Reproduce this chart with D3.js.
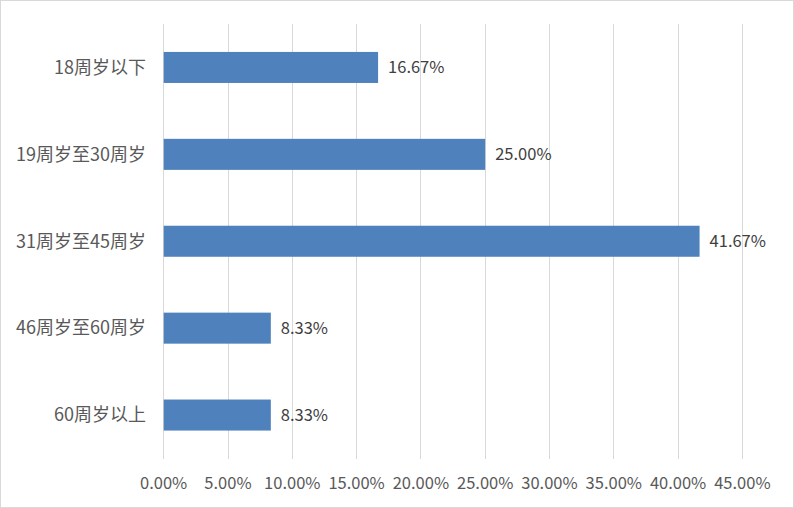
<!DOCTYPE html>
<html><head><meta charset="utf-8">
<script src="https://cdn.jsdelivr.net/npm/d3@7/dist/d3.min.js"></script>
<style>body{margin:0;background:#fff;} text{font-family:"Noto Sans CJK SC","Noto Sans",sans-serif;}</style>
</head><body><svg id="c" width="794" height="508"></svg>
<script>
const categories = ["18周岁以下","19周岁至30周岁","31周岁至45周岁","46周岁至60周岁","60周岁以上"];
const values = [16.67, 25.00, 41.67, 8.33, 8.33];
const ticks = [0,5,10,15,20,25,30,35,40,45];

const svg = d3.select("#c");
svg.append("rect").attr("x",0.5).attr("y",0.5).attr("width",793).attr("height",507)
  .attr("fill","#fff").attr("stroke","#d9d9d9");

const x = d3.scaleLinear().domain([0,45]).range([163.7,742.4]);
const y = d3.scaleBand().domain(categories).range([24,458.5]).paddingInner(0.643).paddingOuter(0.3215);

svg.append("g").selectAll("line").data(ticks).join("line")
  .attr("x1",d=>x(d)).attr("x2",d=>x(d)).attr("y1",24).attr("y2",459)
  .attr("stroke","#d9d9d9").attr("stroke-width",1).attr("shape-rendering","crispEdges");

svg.append("g").selectAll("rect").data(values).join("rect")
  .attr("x",x(0)).attr("y",(d,i)=>y(categories[i]))
  .attr("width",d=>x(d)-x(0)).attr("height",y.bandwidth()).attr("fill","#4f81bd");

svg.append("g").selectAll("text").data(values).join("text")
  .attr("x",d=>x(d)+10).attr("y",(d,i)=>y(categories[i])+y.bandwidth()/2)
  .attr("dy","0.35em").attr("font-size",16.5).attr("fill","#404040")
  .text(d=>d.toFixed(2)+"%");

svg.append("g").selectAll("text").data(categories).join("text")
  .attr("x",146).attr("y",d=>y(d)+y.bandwidth()/2).attr("dy","0.35em")
  .attr("text-anchor","end").attr("font-size",18).attr("fill","#595959").text(d=>d);

svg.append("g").selectAll("text").data(ticks).join("text")
  .attr("x",d=>x(d)).attr("y",483).attr("dy","0.35em").attr("text-anchor","middle")
  .attr("font-size",16.5).attr("fill","#595959").text(d=>d.toFixed(2)+"%");
</script></body></html>
